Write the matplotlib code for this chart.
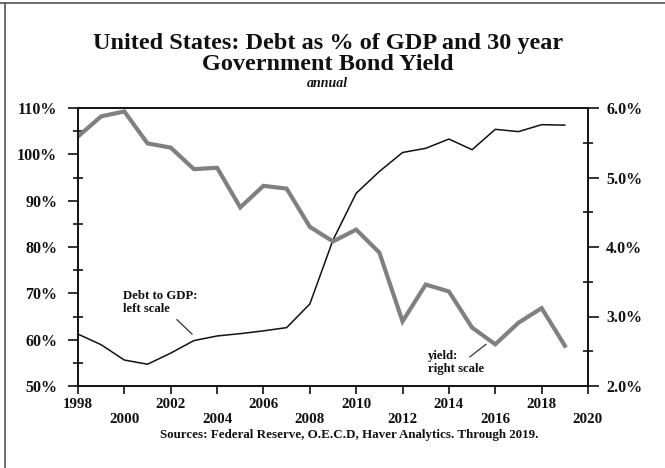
import numpy as np
import matplotlib
matplotlib.use("Agg")
import matplotlib.pyplot as plt
from matplotlib.lines import Line2D
from matplotlib.ticker import MultipleLocator, FuncFormatter

plt.rcParams['font.family'] = ['Liberation Serif', 'DejaVu Serif']
plt.rcParams['font.weight'] = 'bold'

# annual series, 1998-2019
years = list(range(1998, 2020))
debt_to_gdp = [61.2, 58.9, 55.6, 54.7, 57.1, 59.8, 60.8, 61.3, 61.9, 62.6, 67.7,
               81.5, 91.6, 96.3, 100.4, 101.3, 103.3, 101.0, 105.4, 104.9, 106.4, 106.3]
bond_yield = [5.59, 5.88, 5.95, 5.49, 5.43, 5.12, 5.14, 4.57, 4.88, 4.84, 4.29,
              4.08, 4.25, 3.92, 2.93, 3.46, 3.36, 2.84, 2.60, 2.91, 3.12, 2.58]

x_ticks = list(range(1998, 2021, 2))
x_labels = [str(y) if i % 2 == 0 else "\n" + str(y) for i, y in enumerate(x_ticks)]

ink = "#111111"

fig = plt.figure(figsize=(6.65, 4.68), dpi=100)
ax = fig.add_axes([78 / 665, 82 / 468, 510 / 665, 278 / 468])
ax2 = ax.twinx()

ax.plot(years, debt_to_gdp, color="#111111", lw=1.1, zorder=3)
ax2.plot(years, bond_yield, color="#808080", lw=3.0, solid_joinstyle="miter")

ax.set_xlim(1998, 2020)
ax.set_ylim(50, 110)
ax2.set_ylim(2.0, 6.0)

ax.set_xticks(x_ticks)
ax.set_xticklabels(x_labels, fontsize=10.8, fontweight="bold", color=ink, linespacing=1.15)
ax.yaxis.set_major_locator(MultipleLocator(10))
ax.yaxis.set_minor_locator(MultipleLocator(5))
ax.yaxis.set_major_formatter(FuncFormatter(lambda v, p: f"{v:.0f}%"))
ax2.yaxis.set_major_locator(MultipleLocator(1))
ax2.yaxis.set_minor_locator(MultipleLocator(0.5))
ax2.yaxis.set_major_formatter(FuncFormatter(lambda v, p: f"{v:.1f}%"))

ax.tick_params(axis="x", direction="out", length=6, width=1.2, pad=3, colors=ink)
ax.tick_params(axis="y", which="major", direction="out", length=7, width=1.2, pad=8,
               labelsize=11.5, colors=ink)
ax.tick_params(axis="y", which="minor", direction="inout", length=7, width=1.2, colors=ink)
ax2.tick_params(axis="y", which="major", direction="out", length=8, width=1.2, pad=5,
                labelsize=11.5, colors=ink)
ax2.tick_params(axis="y", which="minor", direction="inout", length=7, width=1.2, colors=ink)
for a in (ax, ax2):
    for s in a.spines.values():
        s.set_linewidth(1.2)
        s.set_color(ink)
    for lab in a.get_yticklabels():
        lab.set_fontweight("bold")

# series labels with pointer lines
ax.text(1999.95, 65.3, "Debt to GDP:\nleft scale", fontsize=9.2, fontweight="bold",
        color=ink, linespacing=1.15, va="bottom", ha="left")
ax.plot([2002.27, 2002.92], [64.3, 61.2], color="#333333", lw=0.9)
ax2.text(2013.1, 2.52, "yield:\nright scale", fontsize=9.2, fontweight="bold",
         color=ink, linespacing=1.15, va="top", ha="left")
ax2.plot([2014.91, 2015.6], [2.42, 2.60], color="#333333", lw=0.9)

fig.text(0.493, 0.908, "United States: Debt as % of GDP and 30 year", ha="center",
         va="center", fontsize=17.5, fontweight="bold", color=ink)
fig.text(0.493, 0.862, "Government Bond Yield", ha="center", va="center",
         fontsize=17.5, fontweight="bold", color=ink)
fig.text(0.493, 0.821, "annual", ha="center", va="center", fontsize=10,
         style="italic", fontweight="bold", color=ink)
fig.text(0.525, 0.07, "Sources: Federal Reserve, O.E.C.D, Haver Analytics. Through 2019.",
         ha="center", va="center", fontsize=9.4, fontweight="bold", color=ink)

# frame edges
fig.add_artist(Line2D([0, 1], [1 - 3 / 468, 1 - 3 / 468], transform=fig.transFigure,
                      color="#555555", lw=1.2))
fig.add_artist(Line2D([5 / 665, 5 / 665], [0, 1 - 3 / 468], transform=fig.transFigure,
                      color="#555555", lw=1.2))

fig.savefig("out.png", dpi=100)
